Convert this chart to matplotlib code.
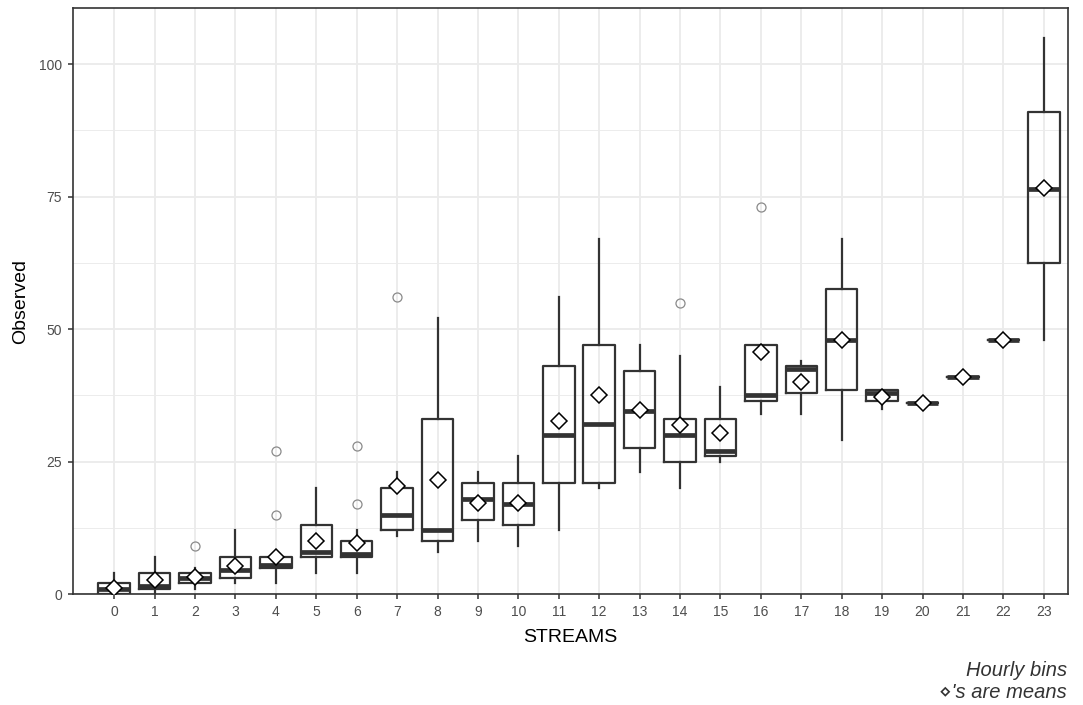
import numpy as np
import matplotlib
matplotlib.use("Agg")
import matplotlib.pyplot as plt

plt.rcParams['font.family'] = ['Liberation Sans', 'DejaVu Sans']

# hourly stream counts, summary stats per hour
hours = list(range(24))
whislo = [0, 0, 1, 2, 2, 4, 4, 11, 8, 10, 9, 12, 20, 23, 20, 25, 34, 34, 29, 35, 36, 41, 48, 48]
q1 = [0, 1, 2, 3, 5, 7, 7, 12, 10, 14, 13, 21, 21, 27.5, 25, 26, 36.5, 38, 38.5, 36.5, 36, 41, 48, 62.5]
med = [1, 1.5, 3, 4.5, 5.5, 8, 7.5, 15, 12, 18, 17, 30, 32, 34.5, 30, 27, 37.5, 42.5, 48, 38, 36, 41, 48, 76.5]
q3 = [2, 4, 4, 7, 7, 13, 10, 20, 33, 21, 21, 43, 47, 42, 33, 33, 47, 43, 57.5, 38.5, 36, 41, 48, 91]
whishi = [4, 7, 5, 12, 7, 20, 12, 23, 52, 23, 26, 56, 67, 47, 45, 39, 47, 44, 67, 38.5, 36, 41, 48, 105]
means = [1.1, 2.6, 3.2, 5.3, 7.0, 10.0, 9.7, 20.4, 21.5, 17.2, 17.2, 32.7, 37.5, 34.8, 31.9, 30.3,
         45.6, 40.0, 48.0, 37.1, 36.0, 41.0, 48.0, 76.6]
outliers = {2: [9], 4: [15, 27], 6: [17, 28], 7: [56], 14: [55], 16: [73]}

stats = []
for i, h in enumerate(hours):
    stats.append(dict(med=med[i], q1=q1[i], q3=q3[i], whislo=whislo[i], whishi=whishi[i],
                      mean=means[i], fliers=outliers.get(h, [])))

fig = plt.figure(figsize=(10.83, 7.05), dpi=100)
ax = fig.add_axes([73 / 1083, 1 - 594 / 705, 995 / 1083, 586 / 705])

dark = '#333333'
ax.bxp(stats, positions=hours, widths=0.78, showmeans=True, showcaps=False,
       boxprops=dict(color=dark, linewidth=1.6),
       whiskerprops=dict(color=dark, linewidth=1.6),
       medianprops=dict(color=dark, linewidth=3.4),
       meanprops=dict(marker='D', markerfacecolor='white', markeredgecolor='black',
                      markersize=8, markeredgewidth=1.1, zorder=5),
       flierprops=dict(marker='o', markerfacecolor='none', markeredgecolor='#8a8a8a',
                       markersize=6.5, markeredgewidth=0.9))

ax.set_xlim(-1.02, 23.6)
ax.set_ylim(0, 110.6)
ax.set_xticks(hours)
ax.set_xticklabels([str(h) for h in hours])
ax.set_yticks([0, 25, 50, 75, 100])
ax.set_yticks([12.5, 37.5, 62.5, 87.5], minor=True)

ax.set_axisbelow(True)
ax.grid(True, which='major', color='#EBEBEB', linewidth=1.3)
ax.grid(True, which='minor', axis='y', color='#EBEBEB', linewidth=0.65)
ax.tick_params(which='minor', length=0)
ax.tick_params(which='major', length=3.5, width=1.1, color=dark,
               labelsize=10, labelcolor='#4D4D4D', pad=4.5)
for s in ax.spines.values():
    s.set_color(dark)
    s.set_linewidth(1.2)

ax.set_xlabel('STREAMS', fontsize=14, color='black', labelpad=7)
ax.set_ylabel('Observed', fontsize=14, color='black', labelpad=7)

fig.text(1067 / 1083, 1 - 702 / 705, "Hourly bins\n\u22c4's are means", ha='right', va='bottom',
         multialignment='right', fontsize=14.5, style='italic', color='#333333')

fig.savefig('out.png', dpi=100)
